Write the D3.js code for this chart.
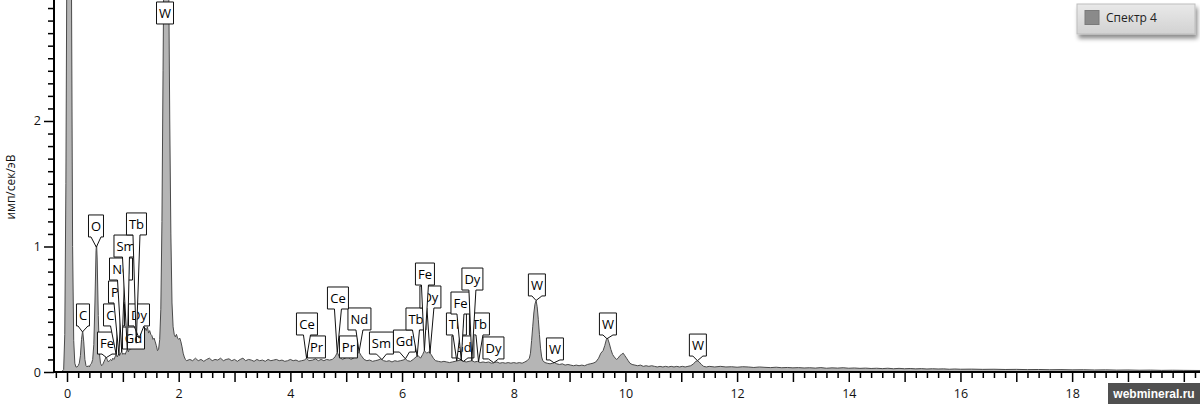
<!DOCTYPE html>
<html><head><meta charset="utf-8">
<script src="https://cdn.jsdelivr.net/npm/d3@7"></script>
<style>html,body{margin:0;padding:0;background:#fff;}svg{display:block;}</style>
</head><body>
<svg id="chart" width="1200" height="404"></svg>
<script>
// ---------- DATA (energy keV, counts имп/сек/эВ) ----------
const spectrumLow = [
[-0.10,0],[-0.06,0.02],[-0.04,0.3],[-0.02,1.5],[0.00,3.6],[0.02,6.5],[0.04,8.0],[0.06,6.2],[0.08,3.1],[0.10,1.0],
[0.12,0.25],[0.14,0.07],[0.16,0.04],[0.18,0.04],[0.20,0.05],[0.22,0.07],[0.24,0.13],[0.26,0.26],[0.28,0.33],[0.30,0.24],
[0.32,0.1],[0.34,0.05],[0.36,0.04],[0.38,0.05],[0.40,0.04],[0.42,0.06],[0.44,0.07],[0.46,0.1],[0.48,0.22],[0.50,0.55],
[0.52,0.97],[0.53,1.02],[0.54,0.9],[0.56,0.45],[0.58,0.15],[0.60,0.07],[0.62,0.05],[0.64,0.06],[0.66,0.08],[0.68,0.1],
[0.70,0.12],[0.72,0.1],[0.74,0.08],[0.76,0.09],[0.78,0.1],[0.80,0.09],[0.82,0.11],[0.84,0.1],[0.86,0.12],[0.88,0.14],
[0.90,0.12],[0.92,0.14],[0.94,0.13],[0.96,0.15],[0.98,0.16],[1.00,0.14],[1.02,0.15],[1.04,0.14],[1.06,0.16],[1.08,0.18],
[1.10,0.16],[1.12,0.19],[1.14,0.18],[1.16,0.2],[1.18,0.22],[1.20,0.21],[1.22,0.24],[1.24,0.23],[1.26,0.26],[1.28,0.25],
[1.30,0.29],[1.32,0.27],[1.34,0.31],[1.36,0.37],[1.38,0.32],[1.40,0.35],[1.42,0.33],[1.44,0.36],[1.46,0.31],[1.48,0.33],
[1.50,0.3],[1.52,0.29],[1.54,0.26],[1.56,0.27],[1.58,0.24],[1.60,0.21],[1.62,0.17],[1.64,0.18],[1.66,0.26],[1.68,0.5],
[1.70,1.2],[1.72,2.4],[1.74,3.6],[1.76,4.4],[1.78,4.6],[1.80,4.2],[1.82,3.2],[1.84,2.0],[1.86,1.1],[1.88,0.55],
[1.90,0.36],[1.92,0.3],[1.94,0.28],[1.96,0.3],[1.98,0.27],[2.00,0.26],[2.02,0.27],[2.04,0.24],[2.06,0.2],[2.08,0.15],
[2.10,0.12],[2.12,0.1],[2.14,0.09]
];
const spectrumMid = [
[2.20,0.1],[2.25,0.09],[2.30,0.11],[2.35,0.09],[2.40,0.1],[2.45,0.085],[2.50,0.1],[2.55,0.11],[2.60,0.09],[2.65,0.1],
[2.70,0.095],[2.75,0.11],[2.80,0.09],[2.85,0.1],[2.90,0.105],[2.95,0.09],[3.00,0.1],[3.05,0.085],[3.10,0.1],[3.15,0.11],
[3.20,0.09],[3.25,0.1],[3.30,0.095],[3.35,0.085],[3.40,0.1],[3.45,0.09],[3.50,0.095],[3.55,0.085],[3.60,0.1],[3.65,0.09],
[3.70,0.095],[3.75,0.1],[3.80,0.09],[3.85,0.095],[3.90,0.085],[3.95,0.09],[4.00,0.1],[4.05,0.09],[4.10,0.095],[4.15,0.085],
[4.20,0.09],[4.25,0.095],[4.29,0.11],[4.33,0.09],[4.40,0.095],[4.45,0.105],[4.50,0.09],[4.55,0.1],[4.60,0.09],[4.65,0.1],
[4.70,0.095],[4.75,0.1],[4.80,0.12],[4.84,0.155],[4.88,0.12],[4.93,0.1],[4.98,0.11],[5.03,0.125],[5.08,0.1],[5.13,0.11],
[5.18,0.13],[5.23,0.16],[5.27,0.13],[5.32,0.1],[5.37,0.09],[5.42,0.095],[5.47,0.085],[5.52,0.09],[5.57,0.095],[5.62,0.105],
[5.67,0.09],[5.72,0.085],[5.77,0.09],[5.82,0.08],[5.87,0.09],[5.92,0.085],[5.97,0.09],[6.02,0.095],[6.06,0.105],[6.10,0.09],
[6.15,0.085],[6.20,0.1],[6.25,0.12],[6.29,0.13],[6.33,0.11],[6.37,0.14],[6.40,0.17],[6.44,0.15],[6.48,0.16],[6.52,0.14],
[6.56,0.11],[6.60,0.09],[6.65,0.085],[6.70,0.08],[6.75,0.085],[6.80,0.08],[6.85,0.075],[6.90,0.08],[6.95,0.085],[7.00,0.09],
[7.05,0.095],[7.10,0.085],[7.15,0.08],[7.20,0.085],[7.25,0.09],[7.30,0.08],[7.35,0.085],[7.40,0.075],[7.45,0.08],[7.50,0.075],
[7.55,0.08],[7.60,0.07],[7.65,0.075],[7.70,0.08],[7.75,0.07],[7.80,0.075],[7.85,0.07],[7.90,0.075],[7.95,0.07],[8.00,0.075],
[8.05,0.07],[8.10,0.075],[8.15,0.07]
];
const spectrumHigh = [
[8.20,0.08],[8.24,0.09],[8.28,0.11],[8.30,0.15],[8.32,0.25],[8.34,0.36],[8.36,0.47],[8.38,0.54],[8.40,0.57],[8.42,0.52],
[8.44,0.42],[8.46,0.3],[8.48,0.19],[8.50,0.12],[8.52,0.09],[8.56,0.075],[8.60,0.07],[8.65,0.065],[8.70,0.07],[8.73,0.075],
[8.77,0.065],[8.82,0.06],[8.87,0.065],[8.92,0.055],[8.97,0.06],[9.02,0.055],[9.07,0.05],[9.12,0.055],[9.17,0.05],[9.22,0.055],
[9.27,0.05],[9.32,0.06],[9.37,0.065],[9.42,0.07],[9.47,0.08],[9.52,0.11],[9.56,0.15],[9.60,0.17],[9.63,0.21],[9.66,0.26],
[9.68,0.27],[9.71,0.23],[9.74,0.18],[9.77,0.14],[9.80,0.12],[9.84,0.1],[9.87,0.11],[9.90,0.13],[9.93,0.14],[9.96,0.15],
[9.99,0.13],[10.02,0.11],[10.05,0.09],[10.08,0.07],[10.12,0.06],[10.17,0.055],[10.22,0.05],[10.27,0.055],[10.32,0.045],[10.37,0.05],
[10.42,0.045],[10.47,0.05],[10.52,0.045],[10.57,0.04],[10.62,0.045],[10.67,0.04],[10.72,0.045],[10.77,0.04],[10.82,0.045],[10.87,0.04],
[10.92,0.045],[10.97,0.04],[11.02,0.045],[11.07,0.04],[11.12,0.045],[11.17,0.05],[11.22,0.065],[11.26,0.085],[11.29,0.09],[11.32,0.08],
[11.36,0.06],[11.40,0.045],[11.45,0.04],[11.50,0.045],[11.60,0.04],[11.70,0.045],[11.80,0.04],[11.90,0.042],[12.00,0.038],[12.10,0.042],
[12.20,0.04],[12.30,0.036],[12.40,0.04],[12.50,0.037],[12.60,0.035],[12.70,0.038],[12.80,0.034],[12.90,0.036],[13.00,0.033],[13.10,0.035],
[13.20,0.032],[13.30,0.034],[13.40,0.031],[13.50,0.035],[13.60,0.03],[13.70,0.033],[13.80,0.031],[13.90,0.034],[14.00,0.03],[14.10,0.032],
[14.20,0.029],[14.30,0.031],[14.40,0.028],[14.50,0.03],[14.60,0.027],[14.70,0.03],[14.80,0.026],[14.90,0.029],[15.00,0.026],[15.10,0.028],
[15.20,0.025],[15.30,0.027],[15.40,0.024],[15.50,0.026],[15.60,0.024],[15.70,0.025],[15.80,0.022],[15.90,0.024],[16.00,0.022],[16.20,0.023],
[16.40,0.021],[16.60,0.022],[16.80,0.02],[17.00,0.021],[17.20,0.019],[17.40,0.02],[17.60,0.018],[17.80,0.019],[18.00,0.017],[18.20,0.018],
[18.40,0.016],[18.60,0.017],[18.80,0.015],[19.00,0.016],[19.20,0.014],[19.40,0.015],[19.60,0.013],[19.80,0.014],[20.00,0.013],[20.29,0.012]
];

const peakNames    = ["W","O","Tb","Sm","Nd","Pr","Ce","Dy","C","Fe","Gd",
                      "Ce","Pr","Ce","Pr","Nd","Sm","Gd","Tb","Fe","Dy",
                      "Tb","Fe","Dy","Gd","Tb","Dy","W","W","W","W"];
const peakEnergies = [1.775,0.525,1.24,1.08,0.98,0.93,0.88,1.29,0.277,0.705,1.19,
                      4.29,4.45,4.84,5.03,5.23,5.64,6.06,6.27,6.40,6.50,
                      6.98,7.06,7.25,7.10,7.37,7.64,8.40,8.72,9.67,11.29];

const xTickLabels = [0,2,4,6,8,10,12,14,16,18];
const yTickLabels = [0,1,2];
const seriesName = "Спектр 4";
const yTitle = "имп/сек/эВ";
const watermark = "webmineral.ru";

// ---------- LAYOUT (callout box anchor: centre keV, box bottom in counts) ----------
const calloutCentreE = [1.755,0.519,1.244,1.056,0.967,0.904,0.842,1.289,0.286,0.716,1.191,
                        4.297,4.467,4.852,5.04,5.237,5.631,6.043,6.249,6.41,6.508,
                        6.974,7.046,7.26,7.09,7.386,7.637,8.415,8.738,9.687,11.298];
const calloutBottomV = [2.773,1.076,1.092,0.916,0.733,0.55,0.367,0.367,0.367,0.143,0.183,
                        0.295,0.112,0.502,0.112,0.335,0.143,0.159,0.335,0.693,0.51,
                        0.295,0.462,0.653,0.112,0.295,0.104,0.606,0.096,0.295,0.127];

const spectrum = spectrumLow.concat(spectrumMid, spectrumHigh);

const svg = d3.select("#chart");
const x = d3.scaleLinear().domain([-0.233, 20.29]).range([54, 1200]);
const y = d3.scaleLinear().domain([0, 2.964]).range([372, 0]);
const FONT = "'Open Sans','Noto Sans',sans-serif";

const defs = svg.append("defs");
defs.append("clipPath").attr("id","plotclip").append("rect")
  .attr("x",54).attr("y",0).attr("width",1146).attr("height",372);
const grad = defs.append("linearGradient").attr("id","lg").attr("x1",0).attr("y1",0).attr("x2",0).attr("y2",1);
grad.append("stop").attr("offset","0%").attr("stop-color","#e9e9e9");
grad.append("stop").attr("offset","100%").attr("stop-color","#d2d2d2");
const flt = defs.append("filter").attr("id","shadow").attr("x","-20%").attr("y","-40%").attr("width","150%").attr("height","200%");
flt.append("feDropShadow").attr("dx",2).attr("dy",4).attr("stdDeviation",2).attr("flood-color","#000").attr("flood-opacity",0.45);

// spectrum
const plot = svg.append("g").attr("clip-path","url(#plotclip)");
plot.append("path").datum(spectrum)
  .attr("d", d3.area().x(d=>x(d[0])).y0(y(0)).y1(d=>y(d[1])))
  .attr("fill","#b5b5b5");
plot.append("path").datum(spectrum)
  .attr("d", d3.line().x(d=>x(d[0])).y(d=>y(d[1])))
  .attr("fill","none").attr("stroke","#4a4a4a").attr("stroke-width",1);

// value of spectrum at an energy (for pointer apex)
const bis = d3.bisector(d=>d[0]).left;
function specAt(e){
  const i = bis(spectrum, e);
  if (i<=0) return spectrum[0][1];
  if (i>=spectrum.length) return spectrum[spectrum.length-1][1];
  const a = spectrum[i-1], b = spectrum[i];
  const t = (e-a[0])/(b[0]-a[0]);
  return a[1] + t*(b[1]-a[1]);
}

// callouts
const callouts = peakNames.map((n,i)=>({name:n, e:peakEnergies[i], ce:calloutCentreE[i], bv:calloutBottomV[i]}))
  .sort((a,b)=>a.bv-b.bv);
const cg = svg.append("g");
callouts.forEach(c=>{
  const g = cg.append("g");
  const t = g.append("text").text(c.name)
    .attr("font-family",FONT).attr("font-size",13).attr("fill","#000")
    .attr("text-anchor","middle");
  const tw = t.node().getComputedTextLength();
  const w = Math.round(tw + 5), h = 22;
  const cx = x(c.ce), by1 = y(c.bv), by0 = by1 - h;
  const bx0 = cx - w/2, bx1 = cx + w/2;
  const ax = x(c.e), ay = y(Math.min(specAt(c.e), 2.964));
  const hb = (ay - by1) > 14 ? 3.5 : 5;
  let d;
  if (ay > by1 + 1) {
    d = `M${bx0},${by0}H${bx1}V${by1}H${cx+hb}L${ax},${ay}L${cx-hb},${by1}H${bx0}Z`;
  } else {
    d = `M${bx0},${by0}H${bx1}V${by1}H${bx0}Z`;
  }
  g.insert("path","text").attr("d",d).attr("fill","#fff").attr("stroke","#111").attr("stroke-width",1)
    .attr("stroke-linejoin","miter");
  t.attr("x",cx).attr("y",by0 + h/2).attr("dy","0.36em");
});

// axes
const axG = svg.append("g").attr("font-family",FONT);
const xMinor = d3.range(-1, 102).map(i=>+(i*0.2).toFixed(1)).filter(v=>Math.abs(v-Math.round(v))>1e-6);
axG.append("g").attr("transform","translate(0,372)")
  .call(d3.axisBottom(x).tickValues(xMinor).tickSize(6).tickFormat(""))
  .call(g=>g.select(".domain").remove())
  .call(g=>g.selectAll("line").attr("stroke","#000").attr("stroke-width",1.5));
axG.append("g").attr("transform","translate(0,372)")
  .call(d3.axisBottom(x).tickValues(d3.range(0,21)).tickSize(10)
     .tickFormat(v=>xTickLabels.includes(v)?String(v):"").tickPadding(7))
  .call(g=>g.select(".domain").remove())
  .call(g=>g.selectAll("line").attr("stroke","#000").attr("stroke-width",1.5))
  .call(g=>g.selectAll("text").attr("font-size",12.5).attr("font-family",FONT).attr("fill","#111"));
const yMinor = d3.range(1, 30).map(i=>+(i*0.1).toFixed(1)).filter(v=>!yTickLabels.includes(v));
axG.append("g").attr("transform","translate(54,0)")
  .call(d3.axisLeft(y).tickValues(yMinor).tickSize(6).tickFormat(""))
  .call(g=>g.select(".domain").remove())
  .call(g=>g.selectAll("line").attr("stroke","#000").attr("stroke-width",1.5));
axG.append("g").attr("transform","translate(54,0)")
  .call(d3.axisLeft(y).tickValues(yTickLabels).tickSize(10).tickPadding(3).tickFormat(d3.format("d")))
  .call(g=>g.select(".domain").remove())
  .call(g=>g.selectAll("line").attr("stroke","#000").attr("stroke-width",1.5))
  .call(g=>g.selectAll("text").attr("font-size",12.5).attr("font-family",FONT).attr("fill","#111"));
axG.append("line").attr("x1",54).attr("x2",54).attr("y1",0).attr("y2",373).attr("stroke","#000").attr("stroke-width",2);
axG.append("line").attr("x1",53).attr("x2",1200).attr("y1",372).attr("y2",372).attr("stroke","#000").attr("stroke-width",2);

// y title
svg.append("text").text(yTitle)
  .attr("transform","translate(15,187) rotate(-90)")
  .attr("text-anchor","middle").attr("font-family",FONT).attr("font-size",12).attr("fill","#111");

// legend
const lg = svg.append("g");
lg.append("rect").attr("x",1077).attr("y",4).attr("width",118).attr("height",30)
  .attr("fill","url(#lg)").attr("stroke","#bdbdbd").attr("filter","url(#shadow)");
lg.append("rect").attr("x",1085).attr("y",10.5).attr("width",14).attr("height",14)
  .attr("fill","#8a8a8a").attr("stroke","#7a7a7a");
lg.append("text").text(seriesName).attr("x",1106).attr("y",17.5).attr("dy","0.36em")
  .attr("font-family",FONT).attr("font-size",12).attr("fill","#222");

// watermark
svg.append("rect").attr("x",1108).attr("y",383).attr("width",92).attr("height",21).attr("fill","#505050");
svg.append("text").text(watermark).attr("x",1154).attr("y",398)
  .attr("text-anchor","middle").attr("font-family","'Liberation Sans',Arial,sans-serif")
  .attr("font-weight","bold").attr("font-size",12).attr("fill","#fff");
</script>
</body></html>
